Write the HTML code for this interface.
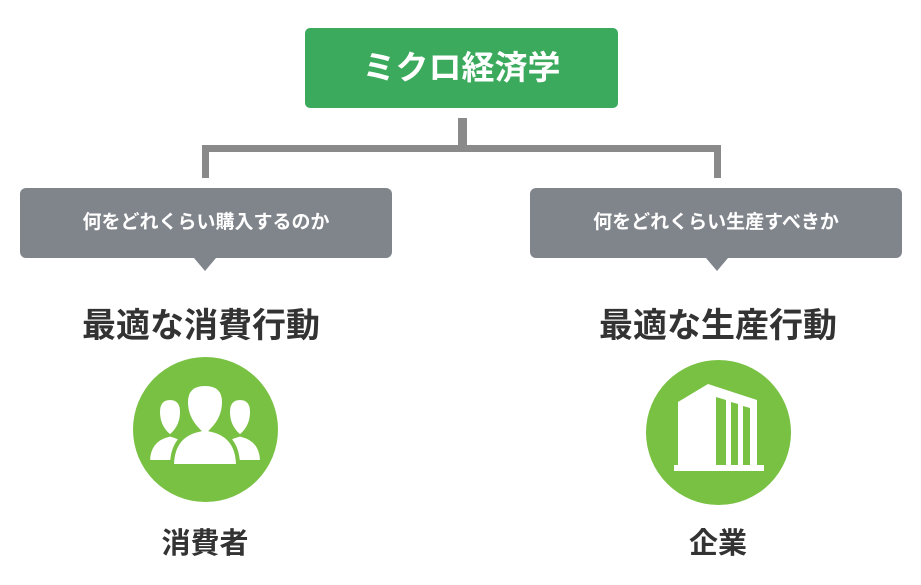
<!DOCTYPE html>
<html><head><meta charset="utf-8"><style>
body{margin:0;width:921px;height:585px;background:#fff;position:relative;overflow:hidden;font-family:"Liberation Sans","Noto Sans CJK JP",sans-serif;}
.a{position:absolute;}
.top{left:305px;top:28px;width:313px;height:80px;background:#3caa5c;border-radius:5px;color:#fff;font-size:33px;line-height:80px;text-align:center;font-weight:bold;}
.ln{background:#8a8a8a;}
.g{top:188px;width:372px;height:70px;background:#80848b;border-radius:6px;color:#fff;font-size:19px;line-height:70px;text-align:center;font-weight:bold;}
.tri{width:0;height:0;border-left:11px solid transparent;border-right:11px solid transparent;border-top:13px solid #80848b;top:258px;}
.t{font-size:34px;font-weight:bold;color:#333;top:298px;width:400px;text-align:center;}
.c{width:145px;height:145px;border-radius:50%;background:#79c143;}
.l{font-size:29px;font-weight:bold;color:#333;top:520px;width:200px;text-align:center;}
</style></head><body>
<div class="a top">ミクロ経済学</div>
<div class="a ln" style="left:458px;top:118px;width:9px;height:34px"></div>
<div class="a ln" style="left:202px;top:145px;width:519px;height:7px"></div>
<div class="a ln" style="left:202px;top:145px;width:7px;height:33px"></div>
<div class="a ln" style="left:714px;top:145px;width:7px;height:33px"></div>
<div class="a g" style="left:20px">何をどれくらい購入するのか</div>
<div class="a g" style="left:530px">何をどれくらい生産すべきか</div>
<div class="a tri" style="left:194px"></div>
<div class="a tri" style="left:706px"></div>
<div class="a t" style="left:1px">最適な消費行動</div>
<div class="a t" style="left:518px">最適な生産行動</div>
<div class="a c" style="left:133px;top:357px"></div>
<div class="a c" style="left:646px;top:360px"></div>
<svg class="a" style="left:0;top:0" width="921" height="585">
<g fill="#fff" stroke="#79c143" stroke-width="4">
<path d="M148 462 Q148 440 168 435 Q158 426 158 412 Q158 398 170 398 Q182 398 182 412 Q182 426 172 435 Q192 440 192 462Z"/>
<path d="M218 462 Q218 440 238 435 Q228 426 228 412 Q228 398 240 398 Q252 398 252 412 Q252 426 242 435 Q262 440 262 462Z"/>
<path d="M172 466 Q172 436 198 430 Q186 418 186 402 Q186 384 205 384 Q224 384 224 402 Q224 418 212 430 Q238 436 238 466Z"/>
</g>
<g fill="#fff">
<path d="M678 402 L708 384 L757 400 L757 465 L678 465Z"/>
<rect x="674" y="465" width="90" height="6"/>
</g>
<g fill="#79c143">
<path d="M716 397 L726 400 L726 465 L716 465Z"/>
<path d="M731 402 L738 404 L738 465 L731 465Z"/>
<path d="M743 406 L750 408 L750 465 L743 465Z"/>
</g>
</svg>
<div class="a l" style="left:105px">消費者</div>
<div class="a l" style="left:618px">企業</div>
</body></html>
